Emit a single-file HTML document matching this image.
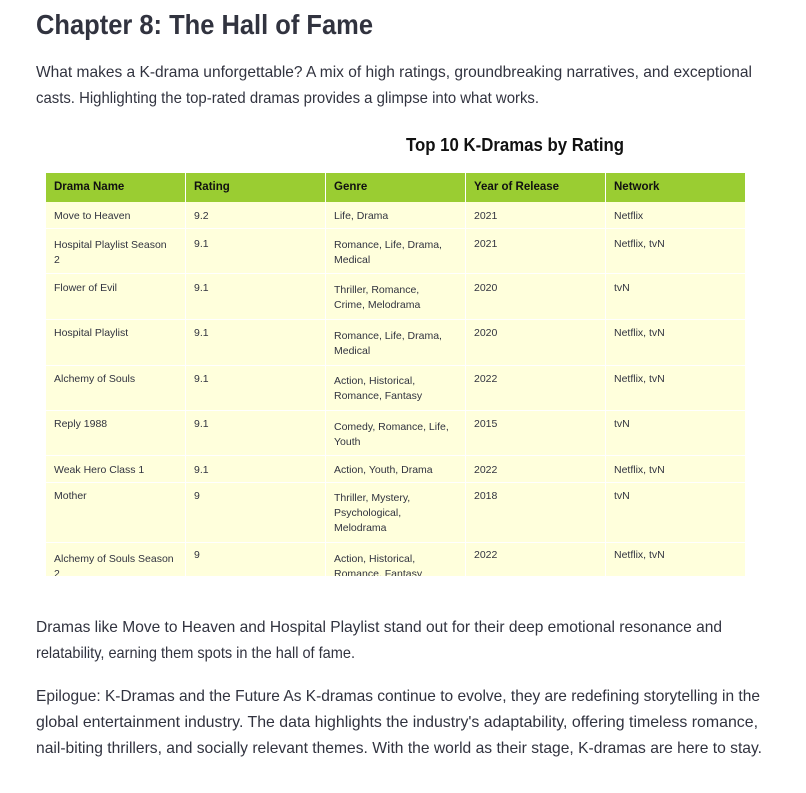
<!DOCTYPE html>
<html><head><meta charset="utf-8">
<style>
body{margin:0;width:806px;height:793px;background:#fff;position:relative;overflow:hidden;font-family:"Liberation Sans",sans-serif;color:#31333f}
.a{position:absolute;white-space:nowrap;transform-origin:0 0}
.t{position:absolute;font-size:10.5px;line-height:15px;color:#31333f;white-space:nowrap}
.hd{position:absolute;top:173px;height:29px;background:#9acd32;font-weight:bold;font-size:11.5px;line-height:29px;padding-left:8px;box-sizing:border-box;color:#111;border-right:1px solid #fff}
</style></head><body>
<div class="a fit" data-w="337" style="left:36px;top:7px;font-size:28px;font-weight:bold;line-height:36px">Chapter 8: The Hall of Fame</div>
<div class="a fit" data-w="716" style="left:36px;top:62px;font-size:16px;line-height:22px">What makes a K-drama unforgettable? A mix of high ratings, groundbreaking narratives, and exceptional</div>
<div class="a fit" data-w="503" style="left:36px;top:88px;font-size:16px;line-height:22px">casts. Highlighting the top-rated dramas provides a glimpse into what works.</div>
<div class="a fit" data-w="218" style="left:406px;top:134px;font-size:18px;font-weight:bold;line-height:22px;color:#111">Top 10 K-Dramas by Rating</div>
<div id="tbl"></div>
<div class="a fit" data-w="686" style="left:36px;top:617px;font-size:16px;line-height:22px">Dramas like Move to Heaven and Hospital Playlist stand out for their deep emotional resonance and</div>
<div class="a fit" data-w="319" style="left:36px;top:643px;font-size:16px;line-height:22px">relatability, earning them spots in the hall of fame.</div>
<div class="a fit" data-w="724" style="left:36px;top:686px;font-size:16px;line-height:22px">Epilogue: K-Dramas and the Future As K-dramas continue to evolve, they are redefining storytelling in the</div>
<div class="a fit" data-w="722" style="left:36px;top:712px;font-size:16px;line-height:22px">global entertainment industry. The data highlights the industry's adaptability, offering timeless romance,</div>
<div class="a fit" data-w="726" style="left:36px;top:738px;font-size:16px;line-height:22px">nail-biting thrillers, and socially relevant themes. With the world as their stage, K-dramas are here to stay.</div>
<script>
const headers=["Drama Name","Rating","Genre","Year of Release","Network"];
const names=[["Move to Heaven"],["Hospital Playlist Season","2"],["Flower of Evil"],["Hospital Playlist"],["Alchemy of Souls"],["Reply 1988"],["Weak Hero Class 1"],["Mother"],["Alchemy of Souls Season","2"]];
const ratings=["9.2","9.1","9.1","9.1","9.1","9.1","9.1","9","9"];
const genres=[["Life,  Drama"],["Romance,  Life,  Drama,","Medical"],["Thriller,  Romance,","Crime,  Melodrama"],["Romance,  Life,  Drama,","Medical"],["Action,  Historical,","Romance,  Fantasy"],["Comedy,  Romance,  Life,","Youth"],["Action,  Youth,  Drama"],["Thriller,  Mystery,","Psychological,","Melodrama"],["Action,  Historical,","Romance,  Fantasy"]];
const years=["2021","2021","2020","2020","2022","2015","2022","2018","2022"];
const networks=["Netflix","Netflix,  tvN","tvN","Netflix,  tvN","Netflix,  tvN","tvN","Netflix,  tvN","tvN","Netflix,  tvN"];
const rowTops=[202,229,274,320,366,411,456,483,543,577];
const txtOff=[7,8,7,6,6,6,7,6,5];
const genOff=[7,9,9,9,8,9,7,8,9];
const tbl=document.getElementById('tbl');
const colX=i=>46+140*i;
headers.forEach((h,i)=>{const d=document.createElement('div');d.className='hd';d.style.left=colX(i)+'px';d.style.width='140px';d.textContent=h;


tbl.appendChild(d);});
for(let r=0;r<names.length;r++){
  const top=rowTops[r],h=rowTops[r+1]-top;
  for(let c=0;c<5;c++){
    const cell=document.createElement('div');
    cell.style.cssText=`position:absolute;left:${colX(c)}px;top:${top}px;width:140px;height:${h}px;background:#ffffdc;box-sizing:border-box;border-right:1px solid #fff;border-bottom:1px solid #fff;overflow:hidden`;
    
    
    const lines=[names[r],[ratings[r]],genres[r],[years[r]],[networks[r]]][c];
    const single=r===0||r===6;
    const off=c===2?genOff[r]:(c===0&&lines.length>1?genOff[r]:txtOff[r]);
    lines.forEach((l,k)=>{const t=document.createElement('div');t.className='t';t.style.left='8px';t.style.top=(off+k*15)+'px';t.textContent=l;
      
      
      cell.appendChild(t);});
    tbl.appendChild(cell);
  }
}
document.querySelectorAll('.fit').forEach(e=>{const w=e.getBoundingClientRect().width;const tw=+e.dataset.w;e.style.transform=`scaleX(${tw/w})`;});
</script>
</body></html>
